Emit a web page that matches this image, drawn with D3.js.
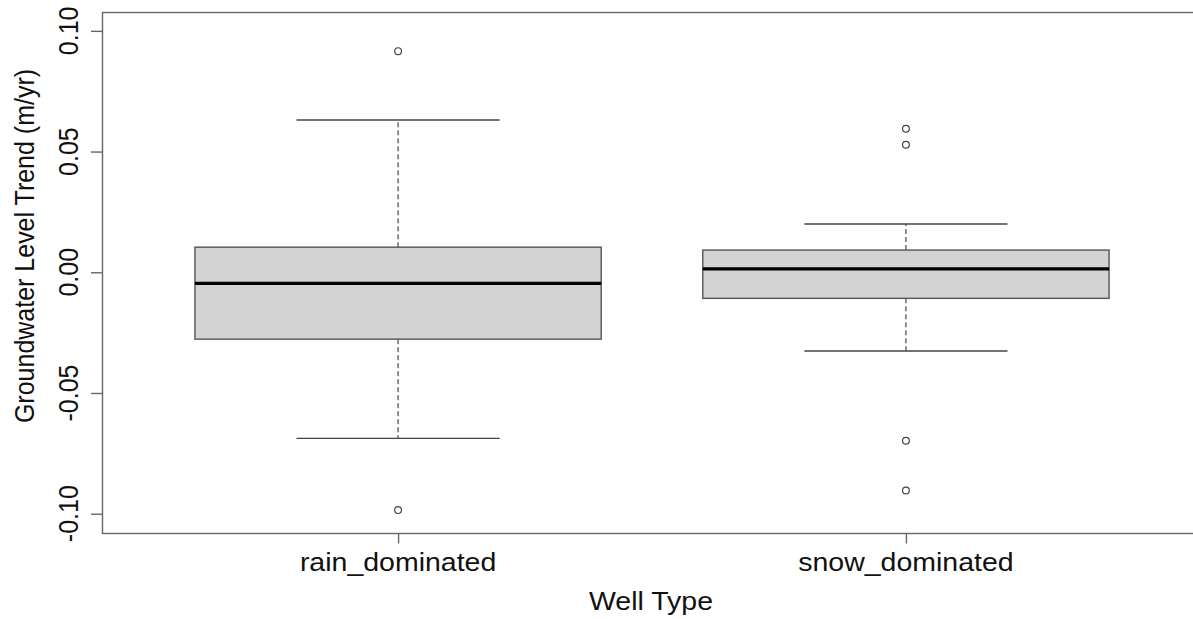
<!DOCTYPE html>
<html>
<head>
<meta charset="utf-8">
<script src="https://cdnjs.cloudflare.com/ajax/libs/d3/7.8.5/d3.min.js"></script>
<style>
  body { margin: 0; background: #fff; }
  text { font-family: "Liberation Sans", Arial, sans-serif; fill: #111; }
</style>
</head>
<body>
<div id="chart"></div>
<script>
// well types on the x axis
var categories = ['rain_dominated', 'snow_dominated'];

// boxplot stats (m/yr)
var whiskerLow  = [-0.0688, -0.0326];
var q1          = [-0.0277, -0.0108];
var medians     = [-0.0046,  0.0014];
var q3          = [ 0.0104,  0.0092];
var whiskerHigh = [ 0.0631,  0.0200];
var outliers    = [[0.0916, -0.0985], [0.0594, 0.0528, -0.0698, -0.0904]];

var yTicks = [-0.10, -0.05, 0.00, 0.05, 0.10];
var yTitle = 'Groundwater Level Trend (m/yr)';
var xTitle = 'Well Type';

var width = 1193, height = 619;
// note: "top" is taken by window.top, so plot edges get their own names
var plotLeft = 102.5, plotRight = 1201.5, plotTop = 12.5, plotBottom = 533.5;
var fontSize = 25, stretch = 1.14;

var svg = d3.select('#chart').append('svg')
    .attr('width', width)
    .attr('height', height);

var x = d3.scalePoint()
    .domain(categories)
    .range([plotLeft, plotRight])
    .padding(0.582);

var y = d3.scaleLinear()
    .domain([-0.1082, 0.1076])
    .range([plotBottom, plotTop]);

var step = x.step();
var boxW = step * 0.8;
var capW = boxW * 0.5;

var data = categories.map(function(c, i) {
    return {
        name: c, lo: whiskerLow[i], q1: q1[i], med: medians[i],
        q3: q3[i], hi: whiskerHigh[i], out: outliers[i]
    };
});

var g = svg.selectAll('.box')
    .data(data)
    .enter().append('g')
    .attr('class', 'box');

// dashed whiskers
g.append('line')
    .attr('x1', function(d) { return x(d.name); })
    .attr('x2', function(d) { return x(d.name); })
    .attr('y1', function(d) { return y(d.q3); })
    .attr('y2', function(d) { return y(d.hi); })
    .style('stroke', '#555').style('stroke-width', 1.3)
    .style('stroke-dasharray', '5,3');
g.append('line')
    .attr('x1', function(d) { return x(d.name); })
    .attr('x2', function(d) { return x(d.name); })
    .attr('y1', function(d) { return y(d.q1); })
    .attr('y2', function(d) { return y(d.lo); })
    .style('stroke', '#555').style('stroke-width', 1.3)
    .style('stroke-dasharray', '5,3');

// staples
['hi', 'lo'].forEach(function(k) {
    g.append('line')
        .attr('x1', function(d) { return x(d.name) - capW / 2; })
        .attr('x2', function(d) { return x(d.name) + capW / 2; })
        .attr('y1', function(d) { return y(d[k]); })
        .attr('y2', function(d) { return y(d[k]); })
        .style('stroke', '#444').style('stroke-width', 1.4);
});

g.append('rect')
    .attr('x', function(d) { return x(d.name) - boxW / 2; })
    .attr('y', function(d) { return y(d.q3); })
    .attr('width', boxW)
    .attr('height', function(d) { return y(d.q1) - y(d.q3); })
    .style('fill', '#d3d3d3')
    .style('stroke', '#555')
    .style('stroke-width', 1.4);

g.append('line')
    .attr('x1', function(d) { return x(d.name) - boxW / 2; })
    .attr('x2', function(d) { return x(d.name) + boxW / 2; })
    .attr('y1', function(d) { return y(d.med); })
    .attr('y2', function(d) { return y(d.med); })
    .style('stroke', '#000').style('stroke-width', 3.2);

g.selectAll('.out')
    .data(function(d) { return d.out.map(function(v) { return {name: d.name, v: v}; }); })
    .enter().append('circle')
    .attr('class', 'out')
    .attr('cx', function(d) { return x(d.name); })
    .attr('cy', function(d) { return y(d.v); })
    .attr('r', 3.4)
    .style('fill', 'none')
    .style('stroke', '#444')
    .style('stroke-width', 1.2);

// frame
svg.append('rect')
    .attr('x', plotLeft).attr('y', plotTop)
    .attr('width', plotRight - plotLeft).attr('height', plotBottom - plotTop)
    .style('fill', 'none').style('stroke', '#666').style('stroke-width', 1.4);

// y axis
var yAxis = svg.append('g')
    .attr('transform', 'translate(' + plotLeft + ',0)')
    .call(d3.axisLeft(y).tickValues(yTicks).tickSize(11.5).tickFormat(d3.format('.2f')));
yAxis.select('.domain').remove();
yAxis.selectAll('line').style('stroke', '#666').style('stroke-width', 1.4);
yAxis.selectAll('text').remove();

svg.selectAll('.ylab')
    .data(yTicks)
    .enter().append('text')
    .attr('class', 'ylab')
    .attr('transform', function(d) {
        return 'translate(78,' + y(d) + ') rotate(-90) scale(1,' + stretch + ')';
    })
    .attr('text-anchor', 'middle')
    .style('font-size', fontSize + 'px')
    .text(function(d) { return d3.format('.2f')(d).replace('−', '-'); });

// x axis
var xAxis = svg.append('g')
    .attr('transform', 'translate(0,' + plotBottom + ')')
    .call(d3.axisBottom(x).tickSize(10));
xAxis.select('.domain').remove();
xAxis.selectAll('line').style('stroke', '#666').style('stroke-width', 1.4);
xAxis.selectAll('text').remove();

svg.selectAll('.xlab')
    .data(categories)
    .enter().append('text')
    .attr('class', 'xlab')
    .attr('transform', function(d) {
        return 'translate(' + x(d) + ',570.5) scale(' + stretch + ',1)';
    })
    .attr('text-anchor', 'middle')
    .style('font-size', fontSize + 'px')
    .text(function(d) { return d; });

svg.append('text')
    .attr('transform', 'translate(651,609.5) scale(' + stretch + ',1)')
    .attr('text-anchor', 'middle')
    .style('font-size', fontSize + 'px')
    .text(xTitle);

svg.append('text')
    .attr('transform', 'translate(33.5,246) rotate(-90) scale(1,' + stretch + ')')
    .attr('text-anchor', 'middle')
    .style('font-size', fontSize + 'px')
    .text(yTitle);
</script>
</body>
</html>
